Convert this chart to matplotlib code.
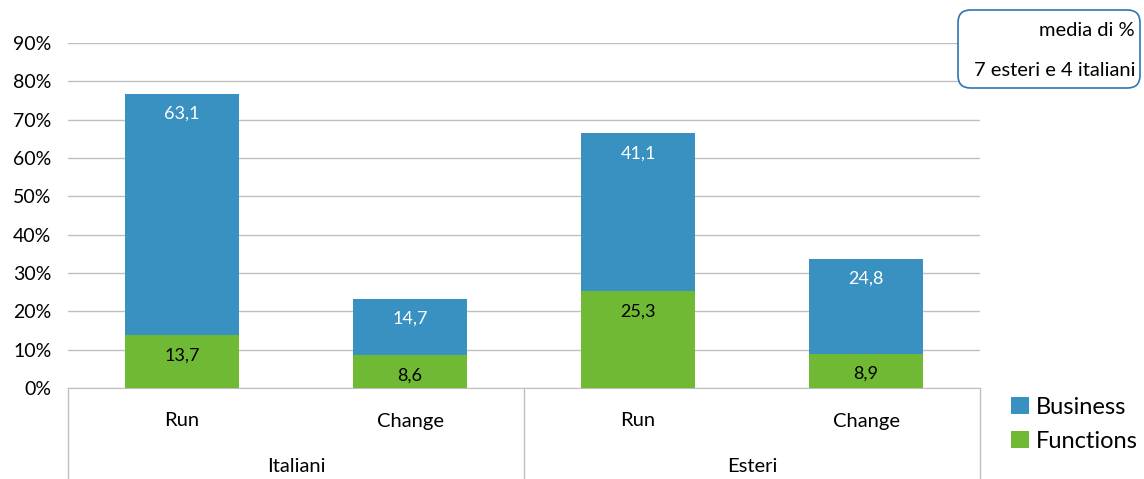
import matplotlib.pyplot as plt
import matplotlib
from matplotlib.patches import FancyBboxPatch

matplotlib.rcParams['font.family'] = ['Lato', 'DejaVu Sans']

categories = ['Run', 'Change', 'Run', 'Change']
groups = ['Italiani', 'Esteri']
functions = [13.7, 8.6, 25.3, 8.9]
business = [63.1, 14.7, 41.1, 24.8]

blue = '#3891c0'
green = '#70b935'
grid = '#bfbfbf'

fig = plt.figure(figsize=(11.44, 4.79), dpi=100)
ax = fig.add_axes([68/1144, 91/479, 912/1144, 345/479])

x = list(range(len(categories)))
b1 = ax.bar(x, functions, width=0.5, color=green, label='Functions', zorder=3)
b2 = ax.bar(x, business, width=0.5, bottom=functions, color=blue, label='Business', zorder=3)

def fmt(v):
    return ('%.1f' % v).replace('.', ',')

for i in x:
    ax.annotate(fmt(functions[i]), (i, functions[i]), xytext=(0, -14.5), textcoords='offset points',
                ha='center', va='center', fontsize=13, color='black', zorder=4)
    ax.annotate(fmt(business[i]), (i, functions[i] + business[i]), xytext=(0, -14.5),
                textcoords='offset points', ha='center', va='center', fontsize=13,
                color='white', zorder=4)

ax.set_xlim(-0.5, 3.5)
ax.set_ylim(0, 90)
ax.set_yticks(range(0, 91, 10))
ax.set_yticklabels(['%d%%' % v for v in range(0, 91, 10)], fontsize=14)
ax.yaxis.grid(True, color=grid, linewidth=1, zorder=0)
ax.set_xticks([])
ax.tick_params(axis='y', length=0, pad=12)
for s in ['top', 'right', 'left']:
    ax.spines[s].set_visible(False)
ax.spines['bottom'].set_color(grid)

# category / group labels below axis
yb = -91/345
for xv in [-0.5, 1.5, 3.5]:
    ax.plot([xv, xv], [0, yb], transform=ax.get_xaxis_transform(), color=grid,
            linewidth=1, clip_on=False)
for i, c in enumerate(categories):
    ax.text(i, -33/345, c, transform=ax.get_xaxis_transform(), ha='center', va='center', fontsize=14.5)
for j, g in enumerate(groups):
    ax.text(2*j + 0.5, -79/345, g, transform=ax.get_xaxis_transform(), ha='center', va='center',
            fontsize=14.5)

handles = [b2, b1]
fig.legend(handles, ['Business', 'Functions'], loc='lower left', bbox_to_anchor=(1011/1144, 27/479),
           frameon=False, fontsize=17, handlelength=0.75, handleheight=0.75, handletextpad=0.3,
           labelspacing=0.55, borderaxespad=0, borderpad=0)

box = FancyBboxPatch((958/1144, 391/479), 182/1144, 78/479, boxstyle='round,pad=0,rounding_size=0.011',
                     transform=fig.transFigure, facecolor='white', edgecolor='#2e75b6', linewidth=1.2,
                     mutation_aspect=1144/479)
fig.patches.append(box)
fig.text(1135/1144, 1 - 31/479, 'media di %', ha='right', va='center', fontsize=14.5)
fig.text(1135/1144, 1 - 70/479, '7 esteri e 4 italiani', ha='right', va='center', fontsize=14.5)

fig.savefig('out.png')
